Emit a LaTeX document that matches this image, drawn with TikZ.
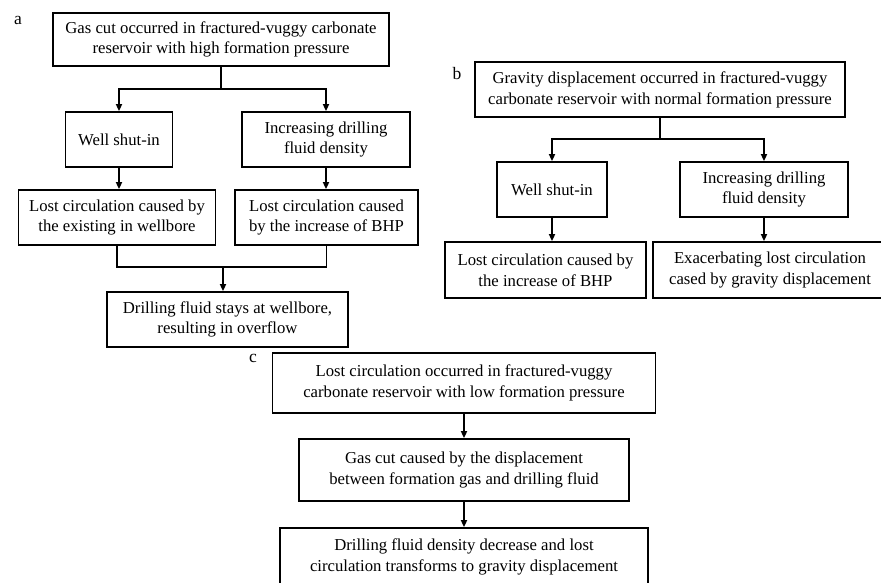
\documentclass[tikz,border=0pt]{standalone}
\usepackage{fontspec}
\setmainfont{Liberation Serif}
\usetikzlibrary{arrows.meta}
\begin{document}
\begin{tikzpicture}[x=1pt,y=-1pt,
  box/.style={draw,line width=1.8pt,rectangle,align=center,inner sep=0pt,
    font=\fontsize{16.7}{20.8}\selectfont},
  conn/.style={line width=1.8pt},
  arr/.style={line width=1.8pt,-{Triangle[length=7pt,width=6pt]}},
  lbl/.style={font=\fontsize{17.5}{20}\selectfont,inner sep=0pt}]
\useasboundingbox (0,0) rectangle (881,583);
% ---------- panel a
\node[lbl] (la) at (18,20) {a};
\node[box,minimum width=336pt,minimum height=53pt] (A1) at (221,39.5)
  {Gas cut occurred in fractured-vuggy carbonate\\reservoir with high formation pressure};
\node[box,minimum width=107pt,minimum height=55pt] (A2) at (119,139.5) {Well shut-in};
\node[box,minimum width=168pt,minimum height=55pt] (A3) at (326,139.5) {Increasing drilling\\fluid density};
\node[box,minimum width=197pt,minimum height=55pt] (A4) at (117,217.5)
  {Lost circulation caused by\\the existing in wellbore};
\node[box,minimum width=183pt,minimum height=55pt] (A5) at (326.5,217.5)
  {Lost circulation caused\\by the increase of BHP};
\node[box,minimum width=241pt,minimum height=55pt] (A6) at (227.5,319.5)
  {Drilling fluid stays at wellbore,\\resulting in overflow};
\coordinate (aj) at (221,89);
\coordinate (am) at (223,267);
\draw[conn] (A1.south) -- (aj);
\draw[arr] (aj) -| (A2.north);
\draw[arr] (aj) -| (A3.north);
\draw[arr] (A2.south -| A2.north) -- (A4.north -| A2.north);
\draw[arr] (A3.south) -- (A5.north -| A3.south);
\draw[conn] (A4.south) |- (am) -| (A5.south);
\draw[arr] (am) -- (am |- A6.north);
% ---------- panel b
\node[lbl] (lb) at (457,74) {b};
\node[box,minimum width=370pt,minimum height=55pt] (B1) at (660,89.5)
  {Gravity displacement occurred in fractured-vuggy\\carbonate reservoir with normal formation pressure};
\node[box,minimum width=110pt,minimum height=55pt] (B2) at (552,189.5) {Well shut-in};
\node[box,minimum width=168pt,minimum height=55pt] (B3) at (764,189.5) {Increasing drilling\\fluid density};
\node[box,minimum width=201pt,minimum height=56pt] (B4) at (545.5,270)
  {Lost circulation caused by\\the increase of BHP};
\node[box,minimum width=234pt,minimum height=56pt] (B5) at (770,270)
  {Exacerbating lost circulation\\cased by gravity displacement};
\coordinate (bj) at (660,139);
\draw[conn] (B1.south) -- (bj);
\draw[arr] (bj) -| (B2.north);
\draw[arr] (bj) -| (B3.north);
\draw[arr] (B2.south) -- (B4.north -| B2.south);
\draw[arr] (B3.south) -- (B5.north -| B3.south);
% ---------- panel c
\node[lbl] (lc) at (253,358) {c};
\node[box,minimum width=383pt,minimum height=60pt] (C1) at (464,383)
  {Lost circulation occurred in fractured-vuggy\\carbonate reservoir with low formation pressure};
\node[box,minimum width=330pt,minimum height=62pt] (C2) at (464,470)
  {Gas cut caused by the displacement\\between formation gas and drilling fluid};
\node[box,minimum width=368pt,minimum height=58pt] (C3) at (464,557)
  {Drilling fluid density decrease and lost\\circulation transforms to gravity displacement};
\draw[arr] (C1.south) -- (C2.north);
\draw[arr] (C2.south) -- (C3.north);
\end{tikzpicture}
\end{document}
